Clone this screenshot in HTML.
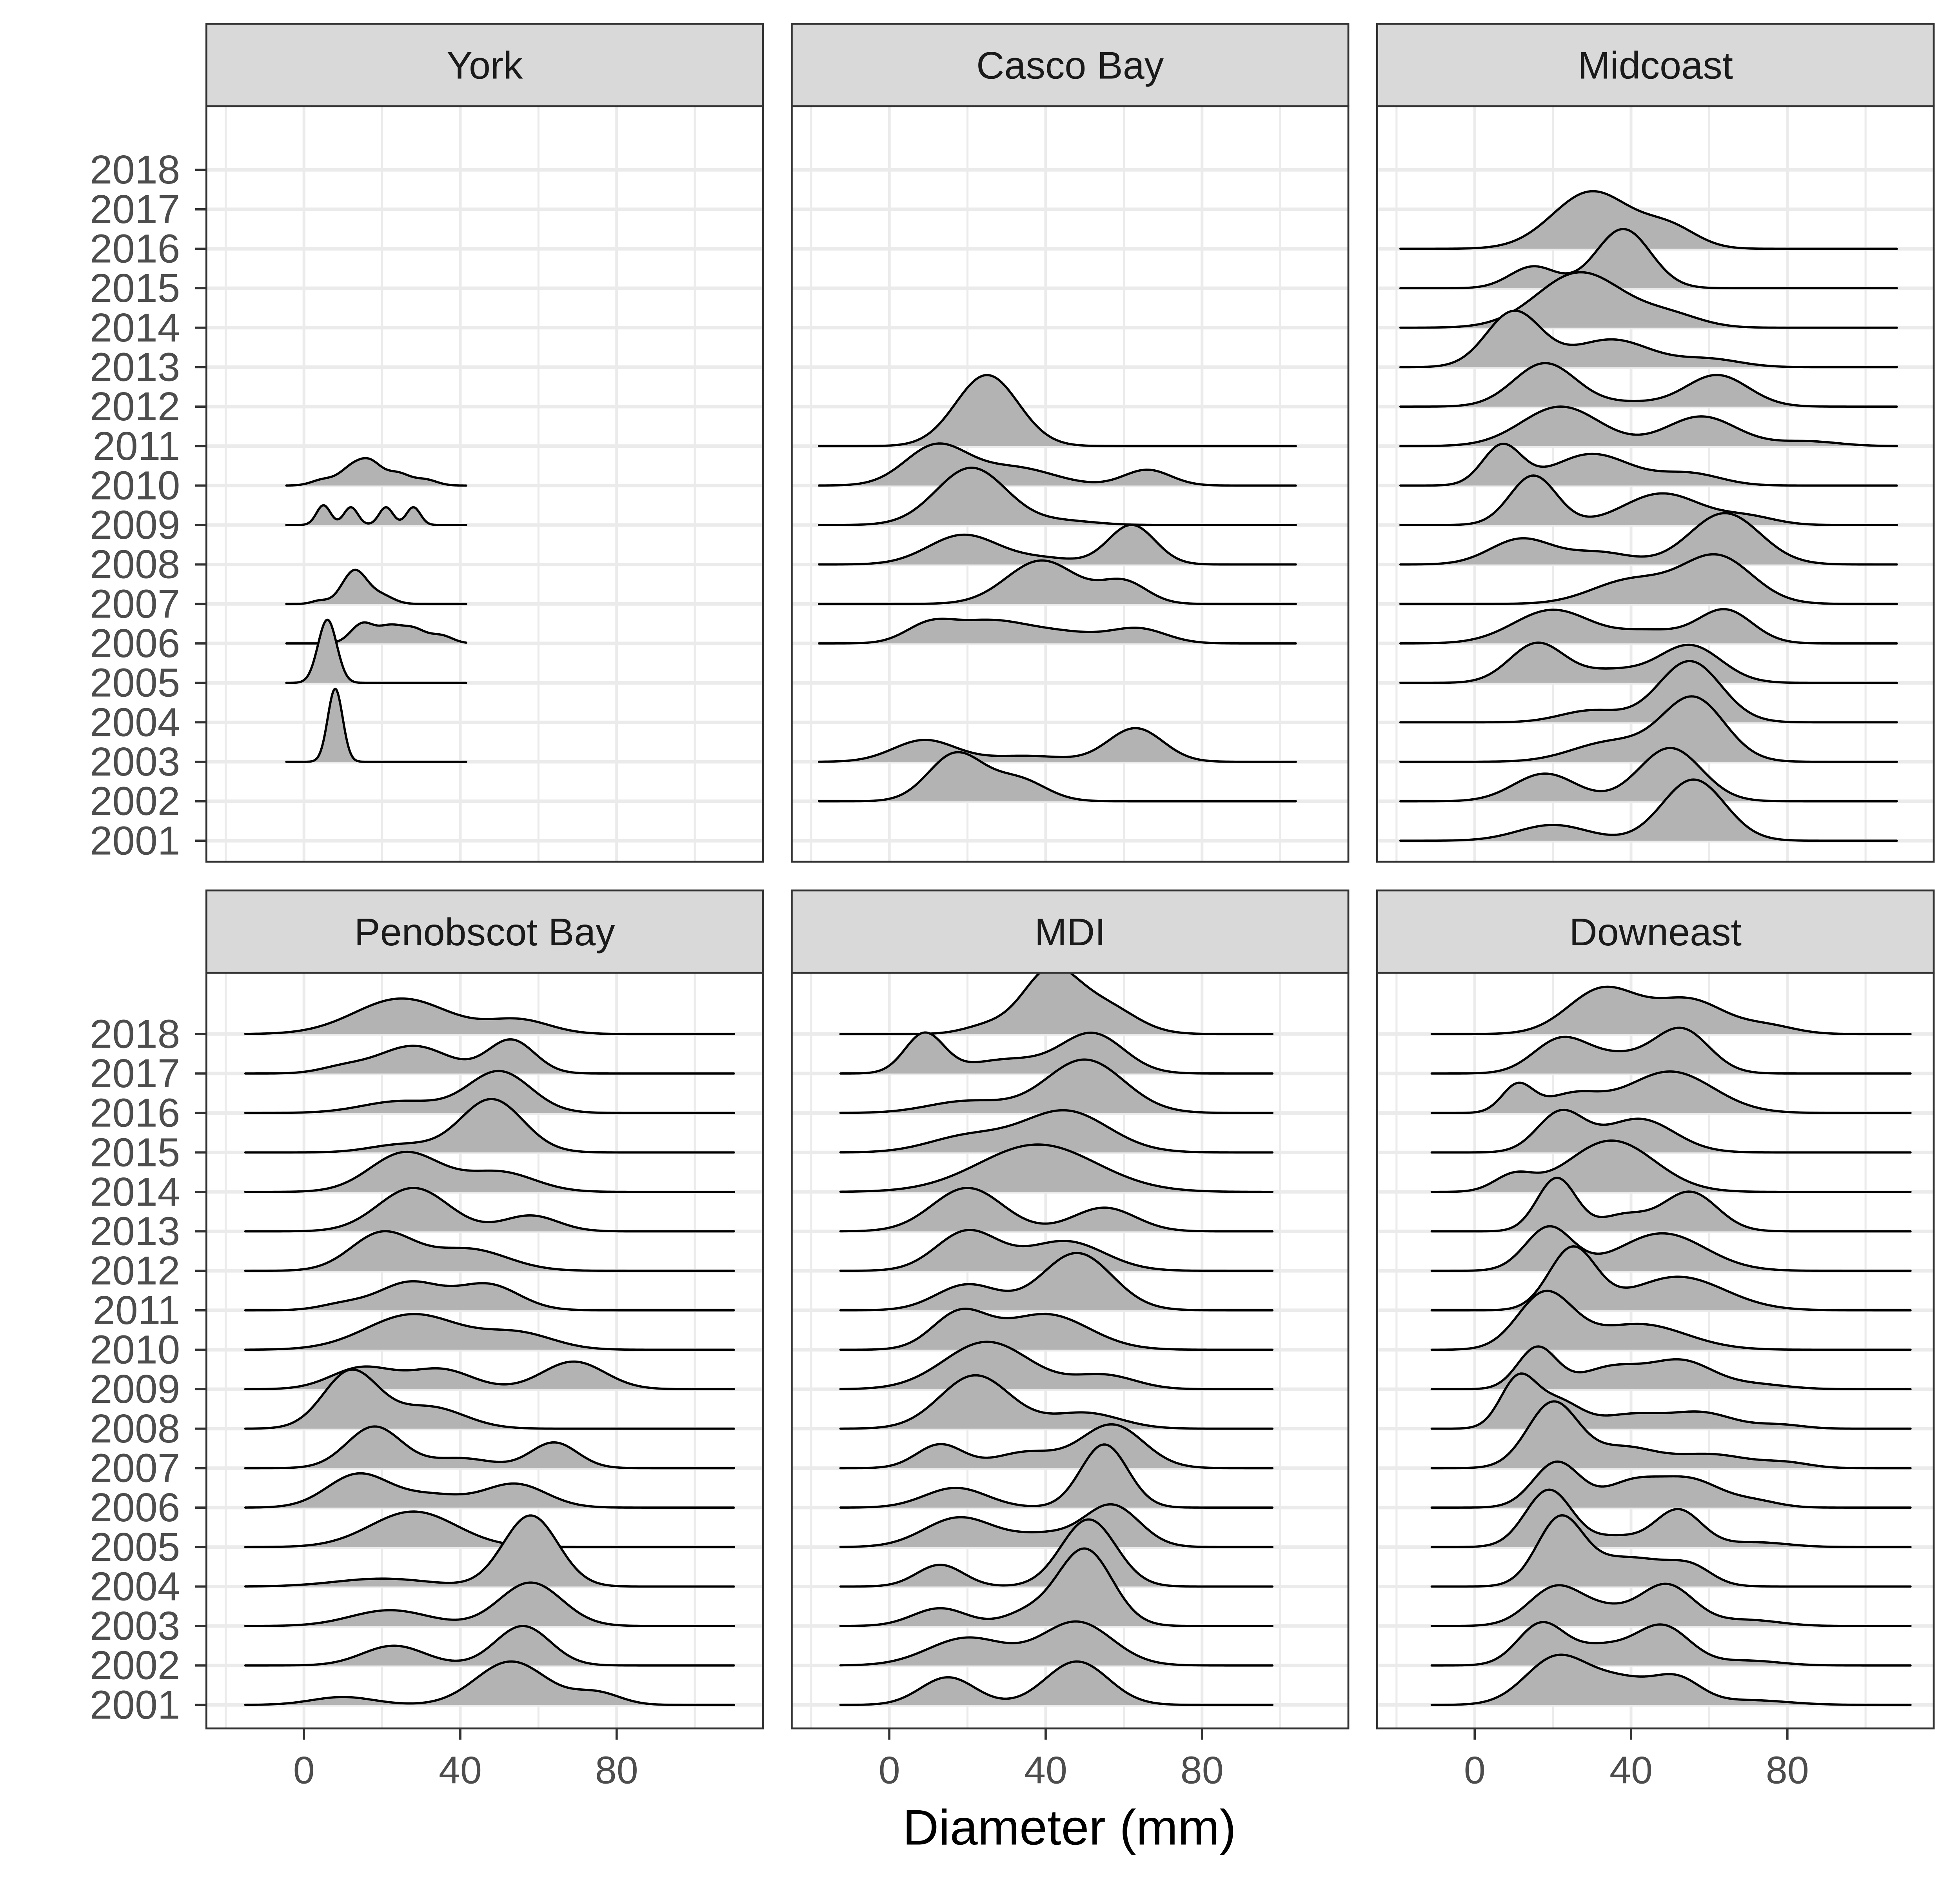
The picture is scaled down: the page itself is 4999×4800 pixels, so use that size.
<!DOCTYPE html>
<html><head><meta charset="utf-8"><title>Diameter ridgelines by region</title>
<style>html,body{margin:0;padding:0;background:#fff}svg{display:block}</style></head>
<body>
<svg id="chart" xmlns="http://www.w3.org/2000/svg" width="4999" height="4800" viewBox="0 0 1567 1507" preserveAspectRatio="none" font-family="Liberation Sans, Arial, sans-serif">
<rect x="0" y="0" width="1567" height="1507" fill="#fff"/>
<text x="855" y="1477" font-size="40" text-anchor="middle" fill="#000">Diameter (mm)</text>
</svg>
<script>
// ---- data (components: [mean mm, sd mm, height in row units]) ----
const regions = ["York","Casco Bay","Midcoast","Penobscot Bay","MDI","Downeast"];
const yearTicks = [2018,2017,2016,2015,2014,2013,2012,2011,2010,2009,2008,2007,2006,2005,2004,2003,2002,2001];
const xTicks = [0,40,80];
const xGrid = [-20,0,20,40,60,80,100];
const xRanges = [[-4.5,41.5],[-18,104],[-19,108],[-15,110],[-12.5,98],[-11,111.5]];

const yorkYears = [2010,2009,2007,2006,2005,2003];
const yorkPeaks = [
 [[5,3,0.15],[12,3,0.4],[17,3,0.55],[24,3,0.3],[31,3,0.15]],
 [[5,1.8,0.5],[12,1.8,0.45],[21,1.8,0.45],[28,1.8,0.45]],
 [[13,3.2,0.85],[20,3,0.2],[4,2,0.08]],
 [[15,3,0.5],[22,3,0.4],[28,3,0.35],[35,3,0.2]],
 [[6,2.4,1.6]],
 [[8,1.9,1.85]]
];
const cascoYears = [2011,2010,2009,2008,2007,2006,2003,2002];
const cascoPeaks = [
 [[25,8,1.8]],
 [[12,8,1.0],[32,10,0.45],[66,6,0.4]],
 [[21,9,1.45],[45,8,0.1]],
 [[19,9,0.75],[40,8,0.15],[62,6,1.0]],
 [[39,9,1.1],[60,6,0.55]],
 [[10,6,0.4],[25,10,0.55],[45,10,0.25],[64,7,0.35]],
 [[9,8,0.55],[35,10,0.15],[63,7,0.85]],
 [[17,7,1.2],[33,7,0.55]]
];
const midcoastYears = [2016,2015,2014,2013,2012,2011,2010,2009,2008,2007,2006,2005,2004,2003,2002,2001];
const midcoastPeaks = [
 [[30,10,1.45],[50,7,0.5]],
 [[15,6,0.55],[38,7,1.5]],
 [[27,11,1.4],[50,8,0.3]],
 [[10,7,1.4],[35,10,0.7],[60,8,0.2]],
 [[18,8,1.1],[40,8,0.1],[62,8,0.8]],
 [[22,10,1.0],[58,9,0.75],[85,8,0.12]],
 [[7,5,1.0],[30,10,0.8],[55,8,0.3]],
 [[15,6,1.25],[48,10,0.8],[70,7,0.2]],
 [[12,8,0.65],[32,8,0.3],[64,9,1.3]],
 [[40,10,0.6],[62,9,1.2]],
 [[20,10,0.85],[45,8,0.3],[64,7,0.85]],
 [[16,7,1.0],[35,8,0.3],[55,8,0.95]],
 [[30,8,0.3],[55,8,1.55]],
 [[35,10,0.5],[56,8,1.6]],
 [[18,8,0.7],[50,8,1.35]],
 [[20,9,0.4],[56,8,1.55]]
];
const penobscotYears = yearTicks;
const penobscotPeaks = [
 [[25,12,0.9],[55,8,0.35]],
 [[10,6,0.15],[28,9,0.7],[53,6,0.85]],
 [[25,10,0.3],[50,8,1.05]],
 [[25,8,0.2],[48,8,1.35]],
 [[26,9,1.0],[50,9,0.5]],
 [[28,9,1.1],[58,7,0.4]],
 [[20,8,0.95],[42,10,0.55]],
 [[10,6,0.15],[27,8,0.7],[47,8,0.65]],
 [[28,12,0.9],[55,9,0.4]],
 [[15,8,0.55],[35,8,0.5],[69,8,0.7]],
 [[12,7,1.45],[32,9,0.55]],
 [[18,7,1.05],[40,8,0.25],[64,6,0.65]],
 [[14,8,0.85],[33,8,0.3],[54,8,0.6]],
 [[28,11,0.9]],
 [[20,12,0.2],[58,7,1.8]],
 [[22,10,0.4],[58,8,1.1]],
 [[23,8,0.5],[56,7,1.0]],
 [[10,8,0.2],[53,9,1.1],[75,6,0.3]]
];
const mdiYears = yearTicks;
const mdiPeaks = [
 [[25,6,0.2],[41,7,1.55],[55,8,0.7]],
 [[9,5,1.0],[30,10,0.35],[52,8,1.0]],
 [[20,10,0.3],[50,10,1.35]],
 [[20,10,0.4],[45,11,1.05]],
 [[38,15,1.2]],
 [[20,9,1.1],[55,8,0.6]],
 [[20,8,1.0],[45,10,0.75]],
 [[20,8,0.65],[48,9,1.45]],
 [[18,7,0.9],[40,11,0.9]],
 [[25,11,1.2],[55,8,0.35]],
 [[22,9,1.35],[50,9,0.4]],
 [[13,6,0.6],[35,8,0.4],[57,8,1.1]],
 [[17,8,0.5],[55,6,1.6]],
 [[18,9,0.75],[40,8,0.3],[57,7,1.05]],
 [[13,6,0.55],[51,7,1.7]],
 [[13,7,0.45],[35,6,0.3],[50,7,1.95]],
 [[20,10,0.7],[48,9,1.1]],
 [[15,7,0.7],[48,8,1.1]]
];
const downeastYears = yearTicks;
const downeastPeaks = [
 [[33,9,1.15],[55,9,0.85],[75,7,0.2]],
 [[22,7,0.85],[37,8,0.4],[53,7,1.1]],
 [[11,4,0.7],[25,7,0.45],[50,11,1.05]],
 [[22,6,1.0],[42,9,0.85]],
 [[10,5,0.4],[35,11,1.3]],
 [[21,5,1.35],[38,6,0.4],[55,7,1.0]],
 [[19,6,1.1],[48,11,0.95]],
 [[25,6,1.55],[52,12,0.85]],
 [[18,7,1.4],[42,12,0.65]],
 [[16,5,1.05],[35,8,0.55],[53,8,0.7],[72,8,0.12]],
 [[11,4.5,1.2],[21,6,0.7],[40,8,0.35],[58,8,0.4],[78,6,0.1]],
 [[20,6.5,1.65],[38,8,0.5],[60,10,0.35],[80,6,0.12]],
 [[21,6,1.15],[40,7,0.6],[55,8,0.7],[72,6,0.15]],
 [[19,6,1.45],[36,6,0.25],[52,6,0.95],[72,8,0.12]],
 [[22,6,1.75],[35,6,0.3],[45,9,0.6],[56,5,0.3]],
 [[21,7,1.0],[34,6,0.3],[49,7,1.05],[70,8,0.15]],
 [[17,6,1.05],[32,7,0.45],[48,7,1.0],[70,8,0.12]],
 [[21,8,1.2],[38,8,0.6],[52,6,0.6],[70,10,0.12]]
];
const allYears = [yorkYears,cascoYears,midcoastYears,penobscotYears,mdiYears,downeastYears];
const allPeaks = [yorkPeaks,cascoPeaks,midcoastPeaks,penobscotPeaks,mdiPeaks,downeastPeaks];

// ---- layout ----
const NS = "http://www.w3.org/2000/svg";
const svg = document.getElementById('chart');
const panelLefts = [165,633,1101], panelW = 445;
const rowTops = [19,713], stripH = 66, plotBottoms = [690,1384];
const firstYearY = [136,828], rowStep = 31.6, pxPerMm = 3.125, zeroOff = 78;
function mk(tag, attrs, parent){const e=document.createElementNS(NS,tag);for(const k in attrs)e.setAttribute(k,attrs[k]);(parent||svg).appendChild(e);return e;}
function xScale(p, mm){return panelLefts[p%3]+zeroOff+mm*pxPerMm;}
function yScale(p, year){return firstYearY[Math.floor(p/3)]+(2018-year)*rowStep;}
function dens(comps, mm){let s=0;for(const c of comps)s+=c[2]*Math.exp(-0.5*Math.pow((mm-c[0])/c[1],2));return s;}

for(let p=0;p<6;p++){
  const col=p%3,row=Math.floor(p/3);
  const L=panelLefts[col], T=rowTops[row], PT=T+stripH, PB=plotBottoms[row];
  const g=mk('g',{});
  
  
  const bg=mk('rect',{x:L,y:PT,width:panelW,height:PB-PT,fill:'#fff'},g);
  
  
  for(const v of xGrid){
    const gl=mk('line',{x1:xScale(p,v),x2:xScale(p,v),y1:PT,y2:PB,stroke:'#ebebeb','stroke-width':(v%40===0)?2.2:1.6},g);
    
    
  }
  for(const yr of yearTicks){
    const gl=mk('line',{x1:L,x2:L+panelW,y1:yScale(p,yr),y2:yScale(p,yr),stroke:'#ebebeb','stroke-width':2.8},g);
    
    
  }
  const years=allYears[p], peaks=allPeaks[p], rg=xRanges[p];
  for(let i=0;i<years.length;i++){
    const base=yScale(p,years[i]); const N=220; let pts=[];
    for(let k=0;k<=N;k++){const mm=rg[0]+(rg[1]-rg[0])*k/N;pts.push([xScale(p,mm),base-dens(peaks[i],mm)*rowStep]);}
    const line=pts.map((q,k)=>(k?'L':'M')+q[0].toFixed(2)+' '+q[1].toFixed(2)).join(' ');
    const fillD=line+' L'+pts[N][0].toFixed(2)+' '+base+' L'+pts[0][0].toFixed(2)+' '+base+' Z';
    const f=mk('path',{d:fillD,fill:'#b3b3b3',stroke:'none'},g);
    
    
    const l=mk('path',{d:line,fill:'none',stroke:'#000','stroke-width':1.8,'stroke-linejoin':'round','stroke-linecap':'round'},g);
    
    
  }
  const bd=mk('rect',{x:L,y:PT,width:panelW,height:PB-PT,fill:'none',stroke:'#333','stroke-width':1.5},g);
  
  
  const st=mk('rect',{x:L,y:T,width:panelW,height:stripH,fill:'#d9d9d9',stroke:'#333','stroke-width':1.5},g);
  
  
  const stt=mk('text',{x:L+panelW/2,y:T+stripH/2+11,'font-size':31,'text-anchor':'middle',fill:'#1a1a1a'},g);
  stt.textContent=regions[p];
  
  
  if(col===0){
    for(const yr of yearTicks){
      const y=yScale(p,yr);
      const tk=mk('line',{x1:L-9,x2:L,y1:y,y2:y,stroke:'#333','stroke-width':1.8},g);
      
      
      const tl=mk('text',{x:L-21,y:y+11,'font-size':32.5,'text-anchor':'end',fill:'#4d4d4d'},g);
      tl.textContent=yr;
      
      
    }
  }
  if(row===1){
    for(const v of xTicks){
      const x=xScale(p,v);
      const tk=mk('line',{x1:x,x2:x,y1:PB,y2:PB+9,stroke:'#333','stroke-width':1.8},g);
      
      
      const tl=mk('text',{x:x,y:PB+44,'font-size':31,'text-anchor':'middle',fill:'#4d4d4d'},g);
      tl.textContent=v;
      
      
    }
  }
}
</script>
</body></html>
